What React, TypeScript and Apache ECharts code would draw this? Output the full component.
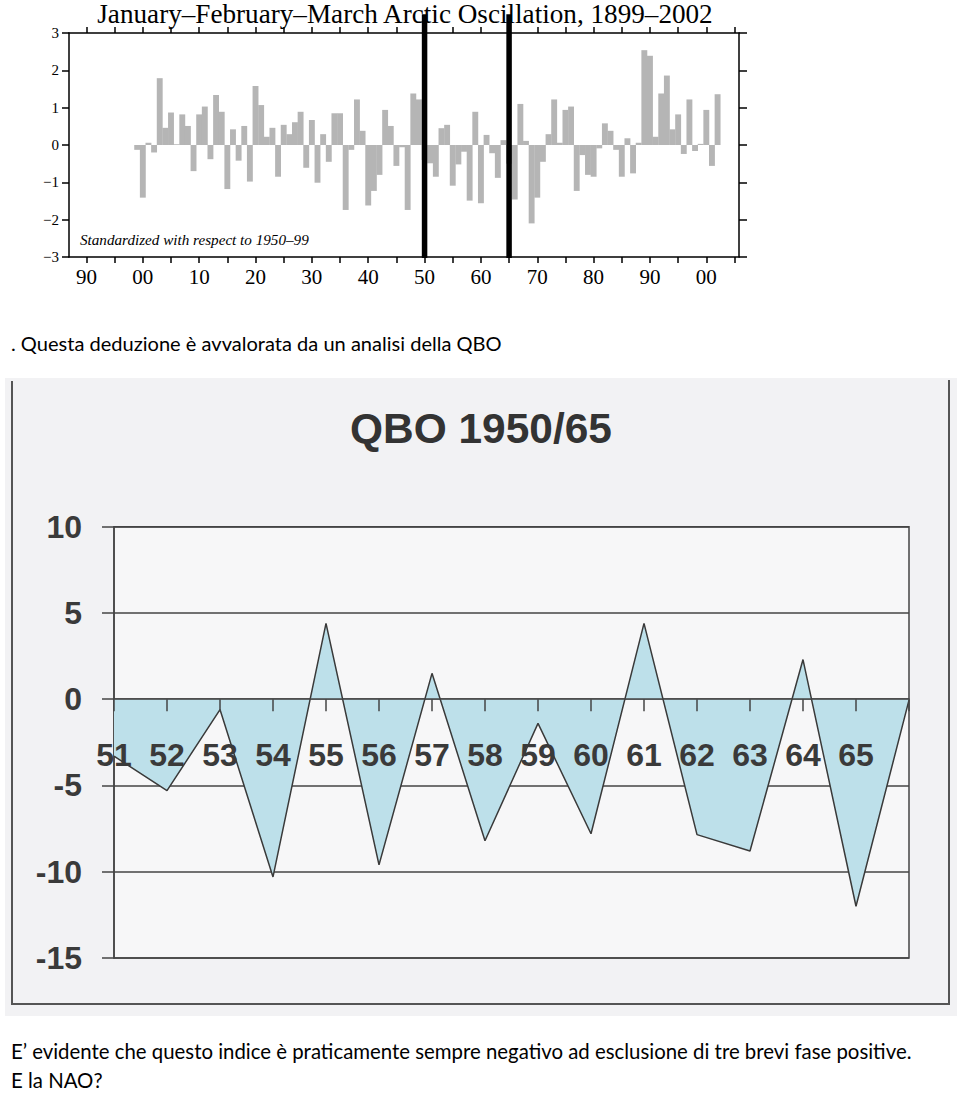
import { useEffect, useRef } from "react";
import * as echarts from "echarts";

// ---------- Top chart: JFM Arctic Oscillation 1899-2002 ----------
const aoStartYear = 1899;
const aoValues = [
  -0.13, -1.41, 0.06, -0.2, 1.79, 0.46, 0.87, 0.02, 0.82, 0.51, // 1899-1908
  -0.7, 0.82, 1.03, -0.38, 1.34, 0.89, -1.18, 0.42, -0.42, 0.51, // 1909-1918
  -0.98, 1.58, 1.07, 0.22, 0.46, -0.85, 0.54, 0.29, 0.61, 0.89, // 1919-1928
  -0.61, 0.67, -1.01, 0.29, -0.45, 0.85, 0.85, -1.74, -0.13, 1.22, // 1929-1938
  0.38, -1.62, -1.23, -0.8, 0.94, 0.51, -0.56, -0.06, -1.74, 1.38, // 1939-1948
  1.22, -0.4, -0.49, -0.85, 0.45, 0.54, -1.09, -0.52, -0.18, -1.49, // 1949-1958
  0.89, -1.56, 0.27, -0.22, -0.88, 0.13, -0.5, -1.46, 1.1, 0.11, // 1959-1968
  -2.1, -1.41, -0.45, 0.29, 1.22, 0.06, 0.94, 1.03, -1.23, -0.27, // 1969-1978
  -0.8, -0.85, -0.09, 0.58, 0.38, -0.13, -0.85, 0.18, -0.76, 0.06, // 1979-1988
  2.54, 2.39, 0.22, 1.38, 1.86, 0.42, 0.82, -0.24, 1.22, -0.16, // 1989-1998
  0.03, 0.94, -0.56, 1.36, // 1999-2002
];
const aoMarkYears = [1950, 1965];
const aoMarkTop = 3.5;
const aoMarkBottom = -3.03;
const aoXLabelYears = [1890, 1900, 1910, 1920, 1930, 1940, 1950, 1960, 1970, 1980, 1990, 2000];
const aoXTickYears = [
  1890, 1895, 1900, 1905, 1910, 1915, 1920, 1925, 1930, 1935, 1940, 1945,
  1950, 1955, 1960, 1965, 1970, 1975, 1980, 1985, 1990, 1995, 2000, 2005,
];
const aoTitle = "January\u2013February\u2013March Arctic Oscillation, 1899\u20132002";
const aoNote = "Standardized with respect to 1950\u201399";

// ---------- Bottom chart: QBO 1950/65 ----------
const qboLabels = ["51", "52", "53", "54", "55", "56", "57", "58", "59", "60", "61", "62", "63", "64", "65", ""];
const qboValues = [-3.3, -5.3, -0.6, -10.3, 4.4, -9.6, 1.5, -8.2, -1.4, -7.8, 4.4, -7.85, -8.8, 2.3, -12.0, -0.05];
const qboTitle = "QBO 1950/65";

// ---------- Body text ----------
const text1 = ". Questa deduzione \u00e8 avvalorata da un analisi della QBO";
const text2 = "E\u2019 evidente che questo indice \u00e8 praticamente sempre negativo ad esclusione di tre brevi fase positive.";
const text3 = "E la NAO?";

function fitSize(text: string, font: string, target: number, base = 20) {
  const ctx = document.createElement("canvas").getContext("2d");
  if (!ctx) return base;
  ctx.font = font.replace("{s}", base + "px");
  const w = ctx.measureText(text).width;
  return w > 0 ? (base * target) / w : base;
}

export default function App() {
  const ref = useRef<HTMLDivElement>(null);
  useEffect(() => {
    if (!ref.current) return;
    const chart = echarts.init(ref.current, undefined, { renderer: "svg" });

    const serif = "'Liberation Serif', 'Times New Roman', serif";
    const sans = "'Liberation Sans', Arial, sans-serif";
    const body = "Lato, 'Open Sans', sans-serif";

    const titleSize = fitSize(aoTitle, `normal normal {s} ${serif}`, 617);
    const noteSize = fitSize(aoNote, `italic normal {s} ${serif}`, 229);
    const qboSize = fitSize(qboTitle, `normal bold {s} ${sans}`, 262);
    const t1Size = fitSize(text1, `normal normal {s} ${body}`, 491);
    const t2Size = fitSize(text2, `normal normal {s} ${body}`, 901);

    const black = "#000";
    const dark = "#3a3a3a";
    const aoMin = 1886.9;
    const aoMax = 2005.8;

    const aoXLabel = (v: number) => String(((v % 100) + 100) % 100).padStart(2, "0");
    const aoYLabel = (v: number) => (v < 0 ? "\u2212" + Math.abs(v) : String(v));

    chart.setOption({
      animation: false,
      backgroundColor: "#ffffff",
      textStyle: { fontFamily: serif },
      grid: [
        { left: 69, top: 33, width: 670, height: 224 },
        {
          left: 114,
          top: 526.7,
          width: 795,
          height: 431.3,
          show: true,
          backgroundColor: "#f7f7f8",
          borderColor: "#444",
          borderWidth: 1.5,
        },
      ],
      xAxis: [
        {
          gridIndex: 0,
          type: "value",
          position: "bottom",
          min: aoMin,
          max: aoMax,
          axisLine: { show: true, onZero: false, lineStyle: { color: black, width: 1.5 } },
          axisTick: { show: true, length: 6, customValues: aoXTickYears, lineStyle: { color: black, width: 1.5 } },
          axisLabel: {
            customValues: aoXLabelYears,
            formatter: aoXLabel,
            fontFamily: serif,
            fontSize: 21,
            color: black,
            margin: 9,
          },
          splitLine: { show: false },
        },
        {
          gridIndex: 0,
          type: "value",
          position: "top",
          min: aoMin,
          max: aoMax,
          axisLine: { show: true, onZero: false, lineStyle: { color: black, width: 1.5 } },
          axisTick: { show: true, length: 6, customValues: aoXTickYears, lineStyle: { color: black, width: 1.5 } },
          axisLabel: { show: false },
          splitLine: { show: false },
        },
        {
          gridIndex: 1,
          type: "category",
          data: qboLabels,
          boundaryGap: false,
          z: 5,
          axisLine: { show: true, onZero: true, lineStyle: { color: "#444", width: 1.5 } },
          axisTick: { show: true, length: 12, lineStyle: { color: "#444", width: 1.5 } },
          axisLabel: {
            interval: 0,
            margin: -219,
            fontFamily: sans,
            fontWeight: "bold",
            fontSize: 32,
            color: dark,
          },
          splitLine: { show: false },
        },
      ],
      yAxis: [
        {
          gridIndex: 0,
          type: "value",
          position: "left",
          min: -3,
          max: 3,
          interval: 1,
          axisLine: { show: true, lineStyle: { color: black, width: 1.5 } },
          axisTick: { show: true, length: 7, lineStyle: { color: black, width: 1.5 } },
          axisLabel: { formatter: aoYLabel, fontFamily: serif, fontSize: 15, color: black, margin: 10 },
          splitLine: { show: false },
        },
        {
          gridIndex: 0,
          type: "value",
          position: "right",
          min: -3,
          max: 3,
          interval: 1,
          axisLine: { show: true, lineStyle: { color: black, width: 1.5 } },
          axisTick: { show: true, length: 8, lineStyle: { color: black, width: 1.5 } },
          axisLabel: { show: false },
          splitLine: { show: false },
        },
        {
          gridIndex: 1,
          type: "value",
          min: -15,
          max: 10,
          interval: 5,
          axisLine: { show: true, lineStyle: { color: "#444", width: 1.5 } },
          axisTick: { show: true, length: 12, lineStyle: { color: "#444", width: 1.5 } },
          axisLabel: { margin: 32, fontFamily: sans, fontWeight: "bold", fontSize: 32, color: dark },
          splitLine: { show: true, lineStyle: { color: "#444", width: 1.5 } },
        },
      ],
      series: [
        {
          type: "bar",
          xAxisIndex: 0,
          yAxisIndex: 0,
          barWidth: 5.9,
          itemStyle: { color: "#b5b5b5" },
          data: aoValues.map((v, i) => [aoStartYear + i, v]),
        },
        ...aoMarkYears.map((yr) => ({
          type: "line",
          xAxisIndex: 0,
          yAxisIndex: 0,
          clip: false,
          symbol: "none",
          z: 10,
          lineStyle: { color: black, width: 5.5 },
          data: [
            [yr, aoMarkTop],
            [yr, aoMarkBottom],
          ],
        })),
        {
          type: "line",
          xAxisIndex: 2,
          yAxisIndex: 2,
          symbol: "none",
          z: 3,
          lineStyle: { color: dark, width: 1.5 },
          areaStyle: { color: "#bde0ea", opacity: 1 },
          data: qboValues,
        },
      ],
      graphic: [
        {
          type: "rect",
          z: -5,
          silent: true,
          shape: { x: 5, y: 378, width: 952, height: 638 },
          style: { fill: "#f2f2f4" },
        },
        {
          type: "polyline",
          z: 1,
          silent: true,
          shape: { points: [[12, 381], [12, 1004], [949, 1004], [949, 380]] },
          style: { stroke: "#555", lineWidth: 2, fill: null },
        },
        {
          type: "text",
          z: 1,
          x: 405,
          y: 3,
          style: {
            text: aoTitle,
            font: `normal normal ${titleSize}px ${serif}`,
            lineHeight: 22,
            fill: black,
            align: "center",
            verticalAlign: "top",
          },
        },
        {
          type: "text",
          z: 1,
          x: 80,
          y: 239.5,
          style: {
            text: aoNote,
            font: `italic normal ${noteSize}px ${serif}`,
            fill: black,
            align: "left",
            verticalAlign: "middle",
          },
        },
        {
          type: "text",
          z: 1,
          x: 481,
          y: 428,
          style: {
            text: qboTitle,
            font: `normal bold ${qboSize}px ${sans}`,
            fill: "#333",
            align: "center",
            verticalAlign: "middle",
          },
        },
        {
          type: "text",
          z: 1,
          x: 11,
          y: 343,
          style: {
            text: text1,
            font: `normal normal ${t1Size}px ${body}`,
            fill: black,
            align: "left",
            verticalAlign: "middle",
          },
        },
        {
          type: "text",
          z: 1,
          x: 11,
          y: 1051,
          style: {
            text: text2,
            font: `normal normal ${t2Size}px ${body}`,
            fill: black,
            align: "left",
            verticalAlign: "middle",
          },
        },
        {
          type: "text",
          z: 1,
          x: 11,
          y: 1080,
          style: {
            text: text3,
            font: `normal normal ${t2Size}px ${body}`,
            fill: black,
            align: "left",
            verticalAlign: "middle",
          },
        },
      ],
    });

    return () => chart.dispose();
  }, []);

  return (
    <div
      ref={ref}
      style={{ position: "absolute", left: 0, top: 0, width: 960, height: 1093 }}
    />
  );
}
